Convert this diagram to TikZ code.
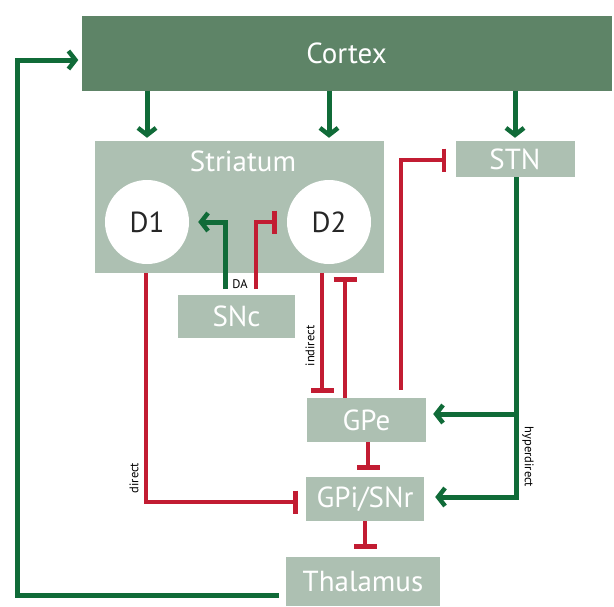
\documentclass[tikz,border=0pt]{standalone}
\usepackage{fontspec}
\setmainfont{PT Sans}
\usepackage{xcolor}
\definecolor{cortexGreen}{HTML}{5E8467}
\definecolor{areaBack}   {HTML}{ADC0B2}
\definecolor{exciteGreen}{HTML}{106B38}
\definecolor{inhibitRed} {HTML}{C21C32}
\usetikzlibrary{arrows.meta, positioning, calc}
\tikzset{
    area/.style={rectangle, fill=areaBack, inner sep=0pt, text=white,
                 font=\fontsize{29}{30}\selectfont},
    cortexbox/.style={area, fill=cortexGreen},
    nucleus/.style={circle, fill=white, minimum size=84pt, inner sep=0pt,
                    text=black!85, font=\fontsize{29}{30}\selectfont},
    excite/.style={-{Straight Barb[length=7pt, width=18pt, line width=4.5pt]},
                   line width=5pt, exciteGreen},
    inhibit/.style={-{Bar[width=23pt, line width=4.5pt]},
                    line width=4.5pt, inhibitRed},
    pathlabel/.style={font=\fontsize{12.5}{13}\selectfont, inner sep=1pt},
}

\begin{document}
\begin{tikzpicture}[x=1pt, y=-1pt]
    \useasboundingbox (0,0) rectangle (614,606);
    % areas
    \node[cortexbox, minimum width=530pt, minimum height=75pt] (cortex) at (346.5,53) {Cortex};
    \node[area, minimum width=289pt, minimum height=132pt] (striatum) at (239.5,207) {};
    \node[area] (striatumlbl) at (243,161) {Striatum};
    \node[nucleus] (D1) at (147,222) {D1};
    \node[nucleus] (D2) at (329,222) {D2};
    \node[area, minimum width=117pt, minimum height=43pt] (snc) at (236.5,316.5) {SNc};
    \node[area, minimum width=119pt, minimum height=36pt] (stn) at (515,159) {STN};
    \node[area, minimum width=119pt, minimum height=44pt] (gpe) at (366.5,420) {GPe};
    \node[area, minimum width=118pt, minimum height=44pt] (gpi) at (365,499) {GPi/SNr};
    \node[area, minimum width=154pt, minimum height=49pt] (thalamus) at (363,581.5) {Thalamus};
    % cortical input
    \draw[excite, shorten >=3pt] (D1 |- cortex.south) -- (D1 |- striatum.north);
    \draw[excite, shorten >=3pt] (D2 |- cortex.south) -- (D2 |- striatum.north);
    \draw[excite, shorten >=3pt] (stn |- cortex.south) -- (stn.north);
    % thalamic feedback
    \coordinate (fbstart) at (279,595);
    \coordinate (fbturn) at (17,60);
    \draw[excite, shorten >=3pt] (fbstart) -| (fbturn) -- (cortex.west |- fbturn);
    % dopamine from SNc
    \coordinate (daG) at (225,289);
    \coordinate (daR) at (256,289);
    \draw[excite, shorten >=9pt] (daG) |- (D1.east);
    \draw[inhibit, shorten >=10pt] (daR) |- (D2.west);
    \node[pathlabel] (dalbl) at (240,284) {DA};
    % direct pathway
    \draw[inhibit, shorten >=8pt] ([xshift=-1pt]D1 |- striatum.south) |- ([yshift=-3pt]gpi.west);
    \node[pathlabel, rotate=90] (directlbl) at (134,478) {direct};
    % indirect pathway
    \draw[inhibit, shorten >=5pt] ([xshift=-7pt]D2 |- striatum.south) -- ([xshift=-7pt]D2 |- gpe.north);
    \draw[inhibit, shorten >=4pt] ([xshift=16pt]D2 |- gpe.north) -- ([xshift=16pt]D2 |- striatum.south);
    \node[pathlabel, rotate=90] (indirectlbl) at (310,346) {indirect};
    \draw[inhibit, shorten >=9pt] ([xshift=34.5pt, yshift=8pt]gpe.north) |- ([yshift=-1pt]stn.west);
    \draw[inhibit, shorten >=7pt] ([xshift=1.5pt]gpe.south) -- ([xshift=1.5pt]gpe.south |- gpi.north);
    \draw[inhibit, shorten >=8pt] (gpi.south) -- (gpi.south |- thalamus.north);
    % hyperdirect pathway
    \draw[excite, shorten >=11pt] ([xshift=1pt]stn.south) |- ([yshift=2pt]gpi.east);
    \draw[excite, shorten >=7pt] ([xshift=1pt, yshift=6pt]stn.south |- gpe.east) -- ([yshift=6pt]gpe.east);
    \node[pathlabel, rotate=-90] (hyperlbl) at (528,457) {hyperdirect};
\end{tikzpicture}
\end{document}
